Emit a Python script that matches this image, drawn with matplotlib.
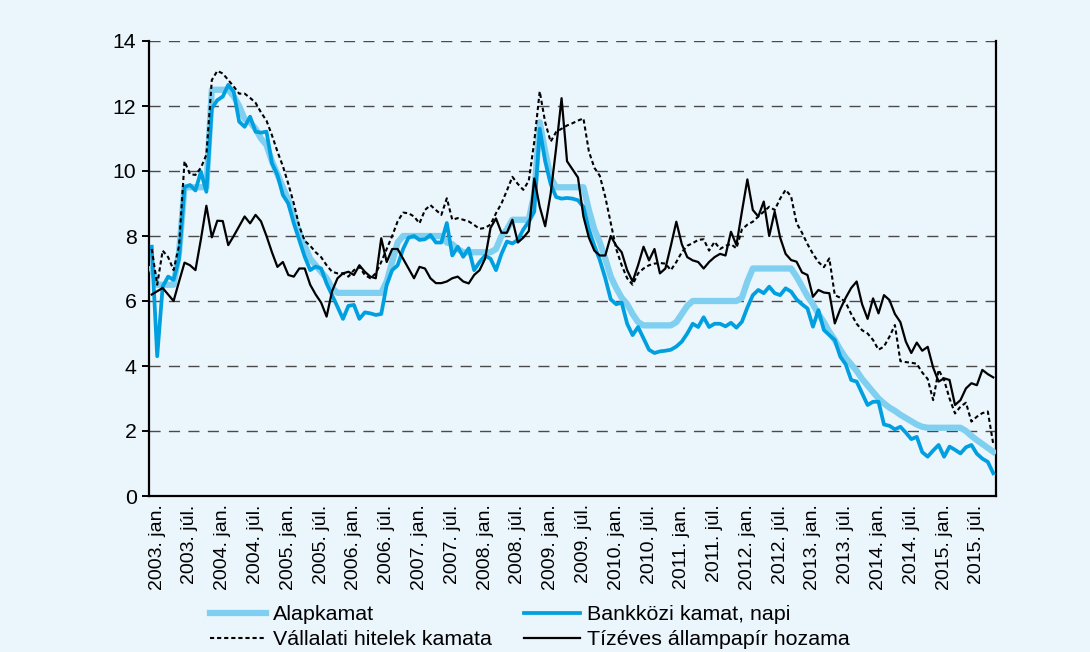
import matplotlib
matplotlib.use("Agg")
import matplotlib.pyplot as plt

# ---- data (monthly, Dec 2002 .. Oct 2015) ----
alapkamat = [7.0, 6.5, 6.5, 6.5, 6.5, 7.5, 9.5, 9.5, 9.5, 9.5, 9.5, 12.5, 12.5, 12.5, 12.5,
             12.3, 12.0, 11.6, 11.5, 11.3, 11.0, 10.8, 10.3, 9.9, 9.5, 9.1, 8.6, 8.1, 7.7, 7.3,
             7.1, 6.9, 6.7, 6.4,
             6.25, 6.25, 6.25, 6.25, 6.25, 6.25, 6.25, 6.25, 6.25,
             6.6, 7.2, 7.8,
             8.0, 8.0, 8.0, 8.0, 8.0, 8.0, 8.0, 8.0,
             7.8, 7.75, 7.6,
             7.5, 7.5, 7.5, 7.5, 7.5, 7.5,
             7.6, 8.0, 8.2,
             8.5, 8.5, 8.5, 8.5,
             9.3, 11.5, 10.6, 9.8,
             9.5, 9.5, 9.5, 9.5, 9.5, 9.5,
             8.8, 8.2, 7.8, 7.3, 6.75, 6.4, 6.1, 5.9, 5.6, 5.35,
             5.25, 5.25, 5.25, 5.25, 5.25, 5.25,
             5.35, 5.6, 5.85,
             6.0, 6.0, 6.0, 6.0, 6.0, 6.0, 6.0, 6.0, 6.0,
             6.1, 6.6,
             7.0, 7.0, 7.0, 7.0, 7.0, 7.0, 7.0, 7.0,
             6.75, 6.45, 6.15, 5.9, 5.6, 5.35, 5.05, 4.8, 4.5, 4.25, 4.05, 3.85, 3.6, 3.4,
             3.2, 3.0, 2.85, 2.72, 2.62, 2.5, 2.4, 2.3, 2.2, 2.13,
             2.1, 2.1, 2.1, 2.1, 2.1, 2.1, 2.1,
             2.0, 1.85, 1.72, 1.6, 1.48, 1.36]

bankkozi = [7.67, 4.3, 6.44, 6.75, 6.65, 7.3, 9.5, 9.57, 9.4, 9.98, 9.36, 11.93, 12.18, 12.29,
            12.65, 12.44, 11.52, 11.36, 11.67, 11.21, 11.18, 11.21, 10.24, 9.88, 9.26, 9.0,
            8.39, 7.88, 7.36, 6.95, 7.06, 7.0, 6.54, 6.18, 5.82, 5.45, 5.85, 5.88, 5.45, 5.65,
            5.62, 5.57, 5.6, 6.5, 6.95, 7.1, 7.6, 7.95, 8.0, 7.88, 7.9, 8.03, 7.8, 7.8, 8.4,
            7.4, 7.67, 7.36, 7.62, 6.95, 7.2, 7.4, 7.3, 6.95, 7.45, 7.83, 7.77, 7.88, 8.2,
            8.44, 8.75, 11.3, 10.3, 9.6, 9.2, 9.15, 9.17, 9.15, 9.1, 8.9, 8.2, 7.7, 7.26, 6.7,
            6.05, 5.9, 5.95, 5.3, 4.95, 5.2, 4.85, 4.5, 4.4, 4.45, 4.47, 4.5, 4.6, 4.75, 5.0,
            5.3, 5.2, 5.5, 5.2, 5.3, 5.3, 5.22, 5.33, 5.18, 5.36, 5.8, 6.18, 6.34, 6.24, 6.44,
            6.24, 6.18, 6.39, 6.29, 6.05, 5.9, 5.77, 5.21, 5.72, 5.11, 4.95, 4.8, 4.29, 4.05,
            3.57, 3.52, 3.16, 2.8, 2.9, 2.9, 2.2, 2.16, 2.05, 2.13, 1.95, 1.75, 1.82, 1.35,
            1.21, 1.4, 1.57, 1.21, 1.52, 1.42, 1.31, 1.5, 1.57, 1.3, 1.15, 1.05, 0.7]

vallalati = [7.6, 6.5, 7.55, 7.35, 6.95, 7.7, 10.3, 9.9, 9.88, 10.1, 10.5, 12.8, 13.08, 13.0,
             12.8, 12.6, 12.38, 12.38, 12.25, 12.1, 11.8, 11.55, 11.1, 10.6, 10.15, 9.6, 9.0,
             8.3, 7.85, 7.7, 7.5, 7.35, 7.1, 6.9, 6.85, 6.85, 6.75, 6.95, 7.05, 6.8, 6.7, 6.85,
             7.2, 7.6, 8.0, 8.45, 8.72, 8.7, 8.6, 8.39, 8.8, 8.95, 8.8, 8.65, 9.16, 8.5, 8.55,
             8.5, 8.45, 8.34, 8.22, 8.25, 8.35, 8.7, 9.0, 9.4, 9.82, 9.6, 9.42, 9.7, 10.9,
             12.45, 11.5, 10.9, 11.2, 11.3, 11.4, 11.47, 11.55, 11.62, 10.6, 10.1, 9.85, 9.2,
             8.4, 7.6, 7.1, 6.7, 6.5, 6.85, 7.0, 7.1, 7.15, 7.17, 7.15, 6.95, 7.2, 7.5, 7.7,
             7.78, 7.88, 7.9, 7.55, 7.82, 7.6, 7.7, 7.75, 7.62, 8.2, 8.35, 8.44, 8.6, 8.75,
             8.9, 8.8, 9.15, 9.42, 9.22, 8.4, 8.1, 7.75, 7.45, 7.2, 7.04, 7.31, 6.18, 6.1,
             5.95, 5.6, 5.3, 5.1, 5.0, 4.8, 4.5, 4.6, 4.9, 5.26, 4.15, 4.12, 4.1, 4.07, 3.8,
             3.6, 2.95, 3.88, 3.57, 3.0, 2.54, 2.75, 2.87, 2.29, 2.44, 2.55, 2.6, 1.6]

tizeves = [6.2, 6.3, 6.4, 6.2, 6.0, 6.6, 7.18, 7.1, 6.95, 7.9, 8.93, 7.96, 8.47, 8.46, 7.72,
           8.0, 8.3, 8.6, 8.39, 8.65, 8.45, 8.0, 7.5, 7.05, 7.2, 6.8, 6.75, 7.0, 7.0, 6.5, 6.2,
           5.95, 5.52, 6.3, 6.7, 6.85, 6.9, 6.8, 7.1, 6.9, 6.75, 6.7, 7.93, 7.2, 7.6, 7.6, 7.3,
           7.0, 6.7, 7.05, 7.0, 6.7, 6.55, 6.55, 6.6, 6.7, 6.75, 6.6, 6.54, 6.8, 6.95, 7.3,
           8.25, 8.54, 8.1, 8.1, 8.5, 7.8, 7.95, 8.15, 9.77, 8.9, 8.3, 9.3, 10.7, 12.24, 10.3,
           10.05, 9.8, 8.6, 7.95, 7.55, 7.4, 7.4, 8.0, 7.7, 7.5, 6.95, 6.6, 7.1, 7.67, 7.25,
           7.6, 6.85, 7.0, 7.7, 8.44, 7.75, 7.35, 7.25, 7.2, 7.0, 7.2, 7.35, 7.45, 7.4, 8.13,
           7.72, 8.75, 9.74, 8.8, 8.6, 9.06, 8.0, 8.75, 7.95, 7.45, 7.26, 7.21, 6.88, 6.8,
           6.13, 6.34, 6.26, 6.24, 5.31, 5.75, 6.1, 6.4, 6.6, 5.9, 5.45, 6.08, 5.62, 6.18,
           6.03, 5.6, 5.35, 4.75, 4.4, 4.72, 4.47, 4.59, 3.95, 3.52, 3.62, 3.57, 2.8, 2.95,
           3.31, 3.47, 3.41, 3.88, 3.75, 3.65]

years = list(range(2003, 2016))
halves = ["jan.", "júl."]
tick_labels = [f"{y}. {h}" for y in years for h in halves]
first_tick = 1          # index of 2003 Jan (series starts Dec 2002)
tick_step = 6
y_ticks = [0, 2, 4, 6, 8, 10, 12, 14]

series_names = ["Alapkamat", "Bankközi kamat, napi",
                "Vállalati hitelek kamata", "Tízéves állampapír hozama"]

# ---- style ----
BG = "#eaf5fc"
LIGHT = "#7fcff0"
BLUE = "#009fe0"

plt.rcParams["font.family"] = ["Liberation Sans", "DejaVu Sans"]

fig = plt.figure(figsize=(10.9, 6.52), dpi=100, facecolor=BG)
ax = fig.add_axes([149 / 1090, 1 - 496 / 652, (996 - 149) / 1090, (496 - 41) / 652])
ax.set_facecolor(BG)

x = list(range(len(bankkozi)))
l1, = ax.plot(x, alapkamat, color=LIGHT, lw=4.5, solid_joinstyle="round", zorder=3)
l2, = ax.plot(x, bankkozi, color=BLUE, lw=2.7, solid_joinstyle="round", zorder=4)
l3, = ax.plot(x, vallalati, color="black", lw=1.5, ls=(0, (2.0, 1.4)), zorder=5)
l4, = ax.plot(x, tizeves, color="black", lw=1.6, zorder=6)

ax.set_xlim(-0.5, len(x) - 0.5)
ax.set_ylim(0, 14)
ax.set_yticks(y_ticks)
ax.set_yticklabels([str(v) for v in y_ticks], fontsize=15.3)
tick_pos = [first_tick + tick_step * k for k in range(len(tick_labels))]
ax.set_xticks(tick_pos)
ax.set_xticklabels(tick_labels, rotation=90, fontsize=14.0, va="top", ha="center")

for v in y_ticks[1:]:
    ax.axhline(v, color="#4a4a4a", lw=1.0, ls=(0, (8, 6)), zorder=1)

ax.spines["top"].set_visible(False)
for s in ["left", "right", "bottom"]:
    ax.spines[s].set_linewidth(1.6)
    ax.spines[s].set_color("black")
ax.tick_params(axis="y", direction="out", length=5, width=1.4, pad=4)
ax.tick_params(axis="x", length=0, pad=6)

fig.legend([l1, l3, l2, l4],
           [series_names[0], series_names[2], series_names[1], series_names[3]],
           ncol=2, loc="upper left", bbox_to_anchor=(210 / 1090, 1 - 605 / 652),
           frameon=False, fontsize=15.4, handlelength=2.6, handletextpad=0.35,
           columnspacing=1.5, labelspacing=0.28, borderpad=0, borderaxespad=0)

fig.savefig("out.png", dpi=100, facecolor=BG)
